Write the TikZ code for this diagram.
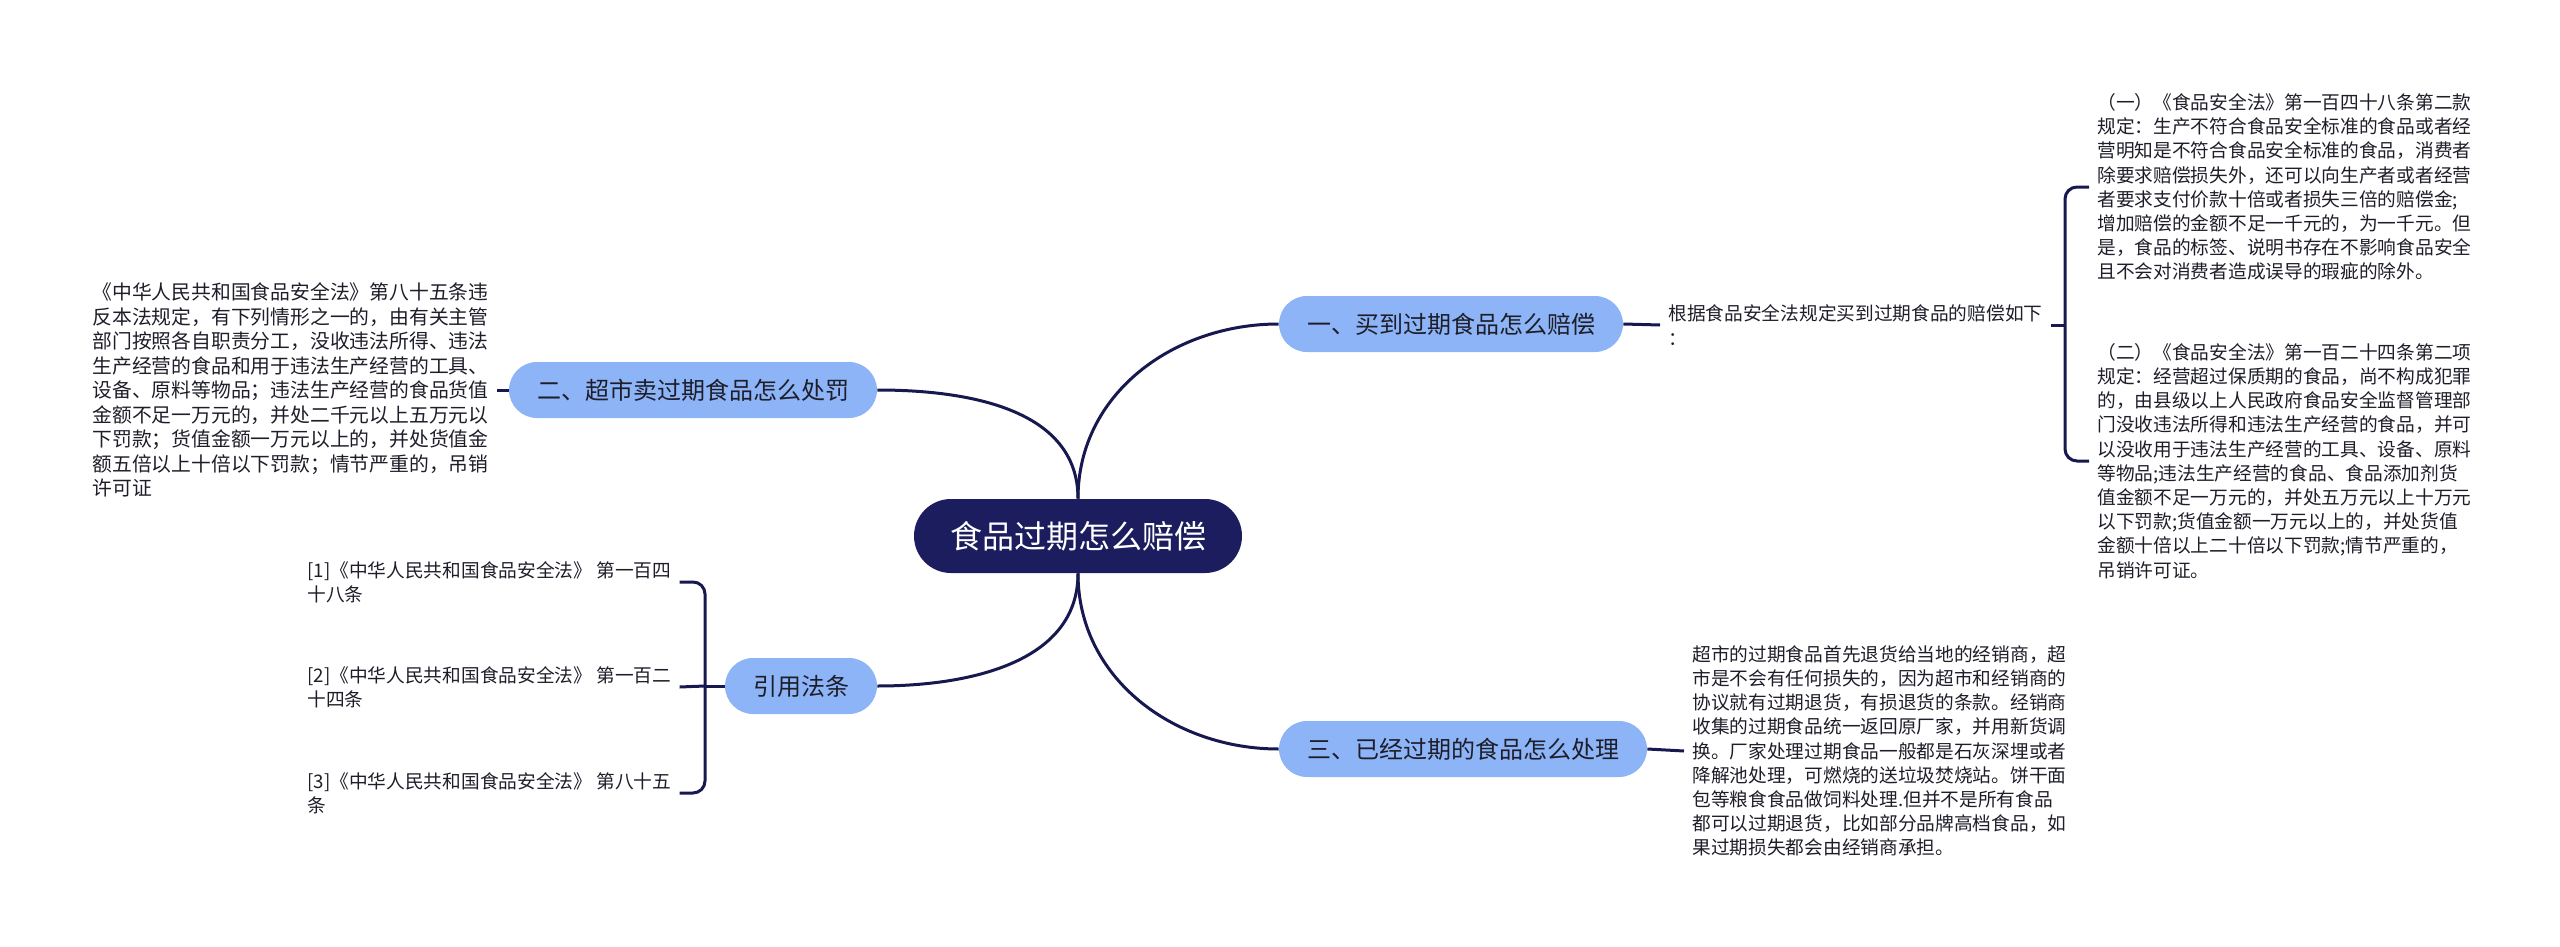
\documentclass[tikz,border=0pt]{standalone}
\usepackage{fontspec}
\setmainfont{Noto Sans CJK SC}
\usepackage{xcolor}
\definecolor{navy}{HTML}{1B1D5E}
\definecolor{skyblue}{HTML}{8DB4F6}
\definecolor{linecol}{HTML}{16184F}
\definecolor{inktext}{HTML}{1E1E2A}
\usetikzlibrary{calc}

\begin{document}
\begin{tikzpicture}[x=0.5pt,y=-0.5pt]
        \tikzset{rootbox/.style={fill=navy, text=white, rounded corners=18.5pt, minimum height=37pt, inner xsep=18pt, inner ysep=0pt, font=\fontsize{16pt}{18pt}\selectfont},
                branchbox/.style={fill=skyblue, text=inktext, rounded corners=14pt, minimum height=28pt, inner xsep=14pt, inner ysep=0pt, font=\fontsize{12pt}{14pt}\selectfont},
                leafnote/.style={anchor=west, align=left, text=inktext, inner xsep=4pt, inner ysep=2pt, font=\fontsize{9.35pt}{12.1pt}\selectfont},
                link/.style={draw=linecol, line width=1.5pt}}
        \useasboundingbox (0,0) rectangle (2560,947);

        % centre and main branches
        \node[rootbox] (root) at (1078,536) {食品过期怎么赔偿};
        \node[branchbox] (buy) at (1451,324) {一、买到过期食品怎么赔偿};
        \node[branchbox] (fine) at (693,390) {二、超市卖过期食品怎么处罚};
        \node[branchbox] (handle) at (1463,749) {三、已经过期的食品怎么处理};
        \node[branchbox] (refs) at (801,686) {引用法条};

        \draw[link] (root.north) .. controls +(0,-105) and +(-105,0) .. (buy.west);
        \draw[link] (root.north) .. controls +(0,-90) and +(90,0) .. (fine.east);
        \draw[link] (root.south) .. controls +(0,105) and +(-105,0) .. (handle.west);
        \draw[link] (root.south) .. controls +(0,90) and +(90,0) .. (refs.east);

        % branch one
        \node[leafnote] (buytxt) at (1660,325) {根据食品安全法规定买到过期食品的赔偿如下\\：};
        \node[leafnote] (law1) at (2089,187) {（一）《食品安全法》第一百四十八条第二款\\
规定：生产不符合食品安全标准的食品或者经\\
营明知是不符合食品安全标准的食品，消费者\\
除要求赔偿损失外，还可以向生产者或者经营\\
者要求支付价款十倍或者损失三倍的赔偿金;\\
增加赔偿的金额不足一千元的，为一千元。但\\
是，食品的标签、说明书存在不影响食品安全\\
且不会对消费者造成误导的瑕疵的除外。};
        \node[leafnote] (law2) at (2089,461) {（二）《食品安全法》第一百二十四条第二项\\
规定：经营超过保质期的食品，尚不构成犯罪\\
的，由县级以上人民政府食品安全监督管理部\\
门没收违法所得和违法生产经营的食品，并可\\
以没收用于违法生产经营的工具、设备、原料\\
等物品;违法生产经营的食品、食品添加剂货\\
值金额不足一万元的，并处五万元以上十万元\\
以下罚款;货值金额一万元以上的，并处货值\\
金额十倍以上二十倍以下罚款;情节严重的，\\
吊销许可证。};
        \coordinate (fork1) at (2065,325);
        \draw[link] (buy.east) -- (buytxt.west);
        \draw[link] (buytxt.east) -- (fork1);
        \draw[link, rounded corners=6pt] (law1.west) -| (fork1) |- (law2.west);

        % branch two
        \node[leafnote, font=\fontsize{9.9pt}{12.25pt}\selectfont] (finetxt) at (84,390) {《中华人民共和国食品安全法》第八十五条违\\
反本法规定，有下列情形之一的，由有关主管\\
部门按照各自职责分工，没收违法所得、违法\\
生产经营的食品和用于违法生产经营的工具、\\
设备、原料等物品；违法生产经营的食品货值\\
金额不足一万元的，并处二千元以上五万元以\\
下罚款；货值金额一万元以上的，并处货值金\\
额五倍以上十倍以下罚款；情节严重的，吊销\\
许可证};
        \draw[link] (fine.west) -- (finetxt.east);

        % branch three
        \node[leafnote] (handletxt) at (1684,751) {超市的过期食品首先退货给当地的经销商，超\\
市是不会有任何损失的，因为超市和经销商的\\
协议就有过期退货，有损退货的条款。经销商\\
收集的过期食品统一返回原厂家，并用新货调\\
换。厂家处理过期食品一般都是石灰深埋或者\\
降解池处理，可燃烧的送垃圾焚烧站。饼干面\\
包等粮食食品做饲料处理.但并不是所有食品\\
都可以过期退货，比如部分品牌高档食品，如\\
果过期损失都会由经销商承担。};
        \draw[link] (handle.east) -- (handletxt.west);

        % cited articles
        \node[leafnote] (ref1) at (299,582) {[1]《中华人民共和国食品安全法》 第一百四\\十八条};
        \node[leafnote] (ref2) at (299,687) {[2]《中华人民共和国食品安全法》 第一百二\\十四条};
        \node[leafnote] (ref3) at (299,793) {[3]《中华人民共和国食品安全法》 第八十五\\条};
        \coordinate (fork2) at (705,686);
        \draw[link] (refs.west) -- (fork2);
        \draw[link] (ref2.east) -- (fork2);
        \draw[link, rounded corners=6pt] (ref1.east) -| (fork2) |- (ref3.east);
\end{tikzpicture}
\end{document}
